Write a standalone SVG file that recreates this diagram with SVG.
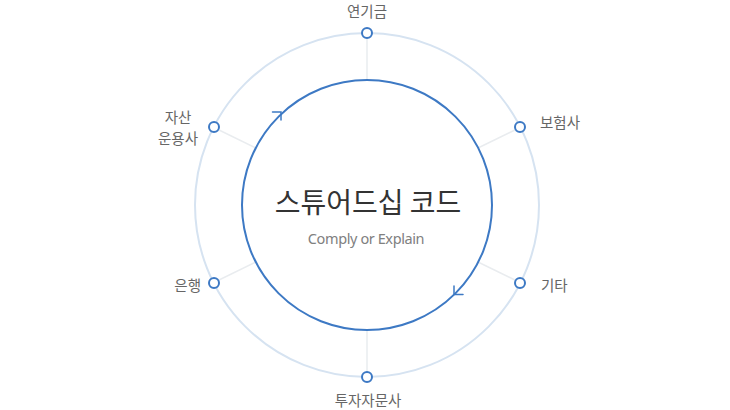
<svg xmlns="http://www.w3.org/2000/svg" width="730" height="410" viewBox="0 0 730 410">
<style>
.ring{fill:none;stroke:#d6e3f1;stroke-width:2}
.inner{fill:none;stroke:#3d79c4;stroke-width:2}
.spoke{stroke:#e9ecef;stroke-width:1.5;fill:none}
.dot{fill:#fff;stroke:#3d79c4;stroke-width:2}
.arr{fill:none;stroke:#3d79c4;stroke-width:1.5;stroke-linecap:round;stroke-linejoin:miter}
.lbl{font-family:"Noto Sans CJK KR","Noto Sans",sans-serif;font-size:14.5px;fill:#666}
.title{font-family:"Noto Sans CJK KR","Noto Sans",sans-serif;font-size:28px;fill:#333;text-anchor:middle}
.sub{font-family:"Noto Sans","Noto Sans CJK KR",sans-serif;font-size:14.5px;fill:#808080;text-anchor:middle;letter-spacing:-0.4px}
</style>
<rect width="730" height="410" fill="#fff"/>
<g id="connectors">
<circle class="ring" cx="367" cy="205" r="172"/>
<line class="spoke" x1="367" y1="38" x2="367" y2="80"/>
<line class="spoke" x1="367" y1="372" x2="367" y2="330"/>
<line class="spoke" x1="515" y1="130" x2="478" y2="148"/>
<line class="spoke" x1="515" y1="280" x2="478" y2="262"/>
<line class="spoke" x1="219" y1="130" x2="256" y2="148"/>
<line class="spoke" x1="219" y1="280" x2="256" y2="262"/>
</g>
<g id="center">
<circle class="inner" cx="367" cy="205" r="125"/>
<polyline class="arr" points="272.5,112 281,112 281,120"/>
<polyline class="arr" points="454,286 454,294.5 463,294.5"/>
<text class="title" x="368" y="213">스튜어드십 코드</text>
<text class="sub" x="366" y="244">Comply or Explain</text>
</g>
<g id="node-pension">
<circle class="dot" cx="367" cy="33" r="5"/>
<text class="lbl" x="367" y="17" text-anchor="middle">연기금</text>
</g>
<g id="node-insurance">
<circle class="dot" cx="520" cy="127" r="5"/>
<text class="lbl" x="540" y="128">보험사</text>
</g>
<g id="node-other">
<circle class="dot" cx="520" cy="283" r="5"/>
<text class="lbl" x="541" y="291">기타</text>
</g>
<g id="node-advisory">
<circle class="dot" cx="367" cy="377" r="5"/>
<text class="lbl" x="368" y="406" text-anchor="middle">투자자문사</text>
</g>
<g id="node-bank">
<circle class="dot" cx="214" cy="283" r="5"/>
<text class="lbl" x="201" y="291" text-anchor="end">은행</text>
</g>
<g id="node-asset">
<circle class="dot" cx="214" cy="127" r="5"/>
<text class="lbl" x="178" y="123" text-anchor="middle">자산</text>
<text class="lbl" x="178" y="144" text-anchor="middle">운용사</text>
</g>
</svg>
